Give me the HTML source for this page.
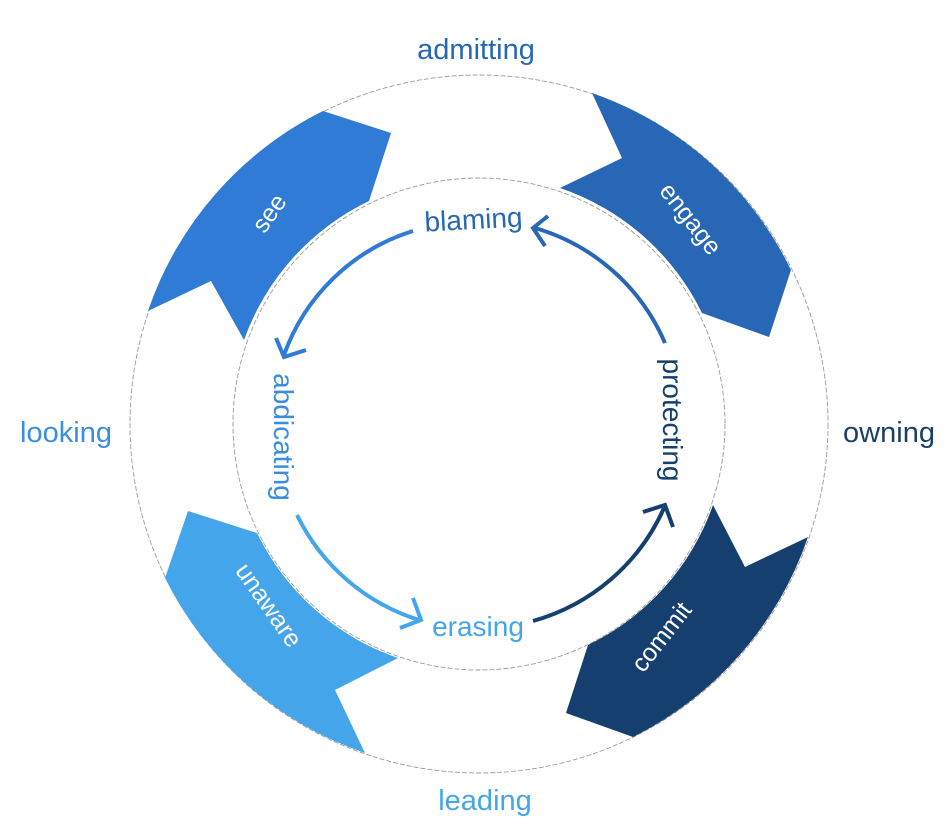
<!DOCTYPE html>
<html><head><meta charset="utf-8"><style>
html,body{margin:0;padding:0;background:#fff;}
svg{display:block;}
text{font-family:"Liberation Sans",sans-serif;}
</style></head><body>
<svg width="946" height="828" viewBox="0 0 946 828">
<circle cx="479" cy="424" r="349" fill="none" stroke="#9a9a9a" stroke-width="0.9" stroke-dasharray="5,2"/>
<circle cx="479" cy="424" r="246" fill="none" stroke="#9a9a9a" stroke-width="0.9" stroke-dasharray="5,2"/>

<path d="M148,311 A349,349 0 0 1 323,111 L391,133 L369,201 A246,246 0 0 0 244,340 L211,281 Z" fill="#2f7bd6"/>
<path d="M592,93 A349,349 0 0 1 791,270 L769,337 L702,313 A246,246 0 0 0 560,188 L622,158 Z" fill="#2767b5"/>
<path d="M713,505 L745,567 L808,537 A349,349 0 0 1 633,737 L566,713 L588,645 A246,246 0 0 0 713,505 Z" fill="#153f6e"/>
<path d="M188,511 L257,533 A246,246 0 0 0 398,658 L335,690 L365,753 A349,349 0 0 1 165,578 Z" fill="#45a5ea"/>

<g font-size="25" fill="#fff" text-anchor="middle">
<text transform="translate(276,218) rotate(-55)">see</text>
<text transform="translate(684,224) rotate(52)">engage</text>
<text transform="translate(668,642) rotate(-52)">commit</text>
<text transform="translate(262,610) rotate(55)">unaware</text>
</g>

<g font-size="29" text-anchor="middle">
<text x="476" y="59" fill="#2767b5">admitting</text>
<text x="66" y="442" fill="#3a8ee0">looking</text>
<text x="889" y="442" fill="#1a3f6a">owning</text>
<text x="485" y="810" fill="#45a5ea">leading</text>
</g>

<g fill="none" stroke-width="4" stroke-linecap="butt">
<path d="M413,231 A200,200 0 0 0 284,355" stroke="#2f7bd6"/>
<polyline points="276,338 284,357 306,350" stroke="#2f7bd6"/>
<path d="M665,343 A203,203 0 0 0 535,228" stroke="#2767b5"/>
<polyline points="548,216 533,228 545,246" stroke="#2767b5"/>
<path d="M297,515 A203,203 0 0 0 419,620" stroke="#45a5ea"/>
<polyline points="413,598 421,620 400,628" stroke="#45a5ea"/>
<path d="M533,621 A203,203 0 0 0 664,508" stroke="#153f6e"/>
<polyline points="643,512 665,505 673,527" stroke="#153f6e"/>
</g>

<g font-size="28" text-anchor="middle">
<text transform="translate(474,229) rotate(-3)" fill="#2767b5">blaming</text>
<text x="478" y="636" fill="#45a5ea">erasing</text>
<text transform="translate(274,437) rotate(90)" fill="#3a8ee0">abdicating</text>
<text transform="translate(663,420) rotate(90)" fill="#153f6e">protecting</text>
</g>
</svg>
</body></html>
